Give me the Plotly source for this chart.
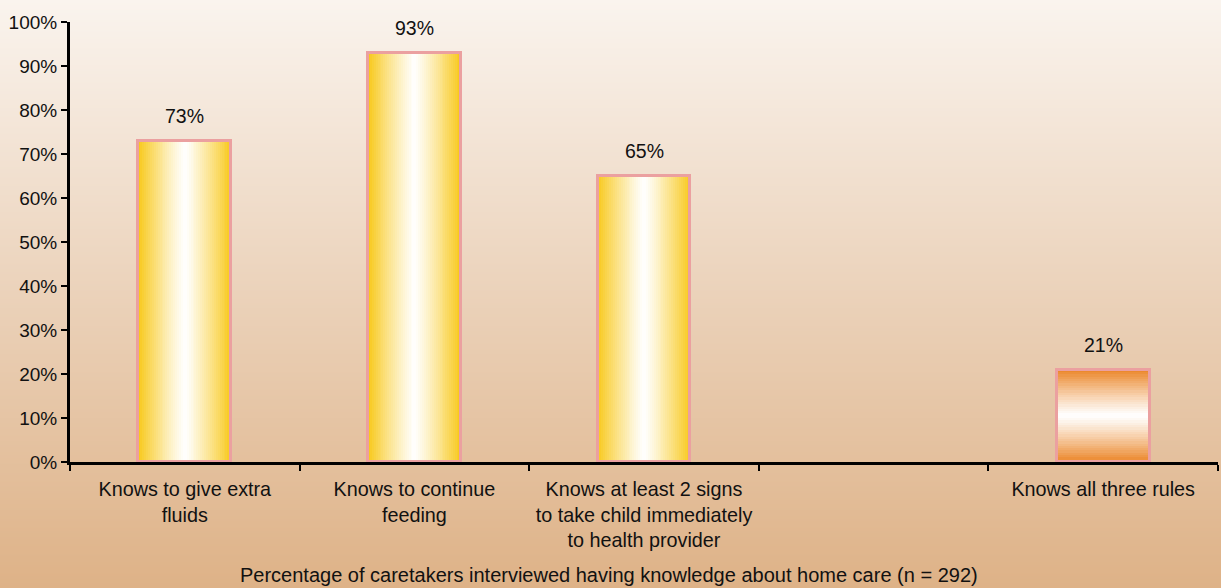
import base64
import struct
import zlib

import plotly.graph_objects as go

# ---- data -------------------------------------------------------------
categories = [
    "Knows to give extra<br>fluids",
    "Knows to continue<br>feeding",
    "Knows at least 2 signs<br>to take child immediately<br>to health provider",
    " ",
    "Knows all three rules",
]
single_rule_values = [73, 93, 65]          # first three categories
all_rules_value = 21                       # last category
tick_values = list(range(0, 101, 10))
tick_labels = [f"{t}%" for t in tick_values]
x_title = "Percentage of caretakers interviewed having knowledge about home care (n = 292)"

# ---- style ------------------------------------------------------------
FONT = "Liberation Sans, Arial, Helvetica, sans-serif"
BAR_W = 0.405
YELLOW = (248, 200, 26)
ORANGE = (235, 134, 40)
WHITE = (255, 255, 255)
BORDER = "#EBA0A0"


def mix(c1, c2, t):
    return tuple(round(a + (b - a) * t) for a, b in zip(c1, c2))


def rgb(c):
    return "rgb(%d,%d,%d)" % c


def edge_to_center(c_edge, u):
    # u in [0,1] across the bar; white in the middle, full colour at the edges
    d = abs(u - 0.5) * 2.0
    t = d ** 1.15
    return mix(WHITE, c_edge, t)


def gradient_png(top, mid, bottom, h=588, w=4):
    rows = b""
    for y in range(h):
        f = y / (h - 1)
        c = mix(top, mid, f / 0.5) if f < 0.5 else mix(mid, bottom, (f - 0.5) / 0.5)
        rows += b"\x00" + bytes(c) * w

    def chunk(tag, data):
        return (struct.pack(">I", len(data)) + tag + data
                + struct.pack(">I", zlib.crc32(tag + data) & 0xffffffff))

    png = b"\x89PNG\r\n\x1a\n"
    png += chunk(b"IHDR", struct.pack(">IIBBBBB", w, h, 8, 2, 0, 0, 0))
    png += chunk(b"IDAT", zlib.compress(rows, 9))
    png += chunk(b"IEND", b"")
    return "data:image/png;base64," + base64.b64encode(png).decode()


fig = go.Figure()

# Yellow bars: horizontal gradient built from narrow vertical slices
yellow_x = categories[:3]
N = 48
step = BAR_W / N
for i in range(N):
    u = (i + 0.5) / N
    fig.add_trace(go.Bar(
        x=yellow_x, y=single_rule_values,
        offset=-BAR_W / 2 + i * step, width=step * 1.6 if i < N - 1 else step,
        marker=dict(color=rgb(edge_to_center(YELLOW, u)), line=dict(width=0)),
        hoverinfo="skip", showlegend=False,
    ))

# Orange bar: vertical gradient built from stacked segments
M = 40
seg = all_rules_value / M
for k in range(M):
    u = (k + 0.5) / M
    fig.add_trace(go.Bar(
        x=[categories[4]], y=[seg * 1.5 if k < M - 1 else seg], base=[k * seg],
        offset=-BAR_W / 2, width=BAR_W,
        marker=dict(color=rgb(edge_to_center(ORANGE, u)), line=dict(width=0)),
        hoverinfo="skip", showlegend=False,
    ))

# Pink outlines on top of the gradients
all_values = single_rule_values + [None, all_rules_value]
fig.add_trace(go.Bar(
    x=categories, y=all_values, width=BAR_W,
    marker=dict(color="rgba(0,0,0,0)", line=dict(color=BORDER, width=3)),
    hoverinfo="skip", showlegend=False,
))

# Value labels
for cat, v in zip(categories, all_values):
    if v is None:
        continue
    fig.add_annotation(
        x=cat, y=v, text=f"{v}%", showarrow=False,
        yanchor="bottom", yshift=12,
        font=dict(family=FONT, size=19.5, color="#111111"),
    )

fig.add_annotation(
    xref="paper", yref="paper", x=0.4695, y=-0.257,
    text=x_title, showarrow=False, xanchor="center", yanchor="middle",
    font=dict(family=FONT, size=20, color="#111111"),
)

L, R, T, B = 70, 3, 22, 126
W, H = 1221, 588
pw, ph = W - L - R, H - T - B

fig.add_layout_image(
    source=gradient_png((250, 244, 238), (235, 210, 186), (222, 178, 135)),
    xref="paper", yref="paper",
    x=-L / pw, y=1 + T / ph, sizex=W / pw, sizey=H / ph,
    sizing="stretch", xanchor="left", yanchor="top", layer="below",
)

fig.update_layout(
    width=W, height=H,
    margin=dict(l=L, r=R, t=T, b=B),
    paper_bgcolor="#ECD3BA", plot_bgcolor="rgba(0,0,0,0)",
    barmode="overlay", bargap=0,
    font=dict(family=FONT, size=20, color="#111111"),
    showlegend=False,
)
fig.update_xaxes(
    type="category", categoryorder="array", categoryarray=categories,
    range=[-0.5, 4.5], tickson="boundaries",
    showline=True, linecolor="black", linewidth=3,
    ticks="outside", ticklen=6, tickwidth=2, tickcolor="black",
    ticklabelstandoff=7,
    showgrid=False, zeroline=False, fixedrange=True,
    tickfont=dict(family=FONT, size=19.8, color="#111111"),
)
fig.update_yaxes(
    range=[0, 100], tickmode="array", tickvals=tick_values, ticktext=tick_labels,
    showline=True, linecolor="black", linewidth=3,
    ticks="outside", ticklen=6, tickwidth=2, tickcolor="black",
    showgrid=False, zeroline=False, fixedrange=True,
    tickfont=dict(family=FONT, size=19, color="#111111"),
)

fig.write_html("out.html")
